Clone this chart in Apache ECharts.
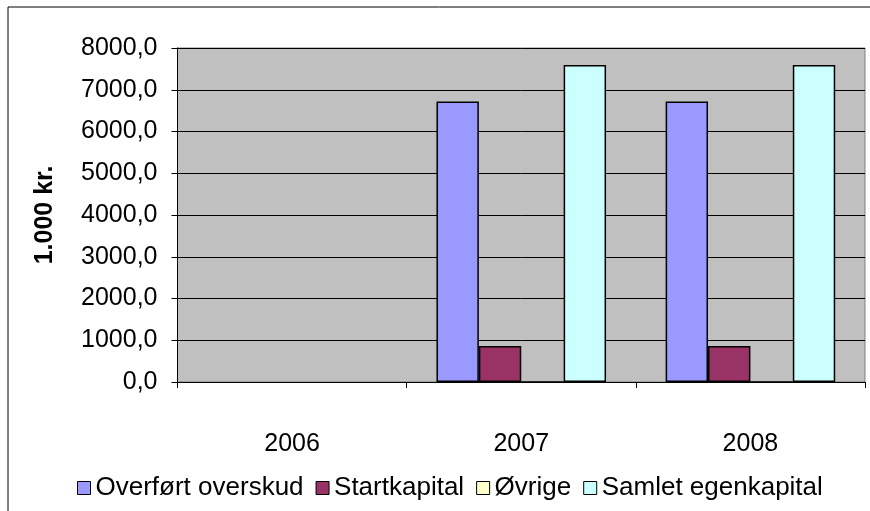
<!DOCTYPE html>
<html>
<head>
<meta charset="utf-8">
<script src="https://cdn.jsdelivr.net/npm/echarts@6/dist/echarts.min.js"></script>
<style>
  html, body { margin: 0; padding: 0; background: #fff; }
  #chart { width: 870px; height: 511px; }
</style>
</head>
<body>
<div id="chart"></div>
<script>
// data (2006 has no bars)
const years = ["2006", "2007", "2008"];
const overfortOverskud = [null, 6720, 6720];
const startkapital = [null, 860, 860];
const ovrige = [null, 0, 0];
const samletEgenkapital = [null, 7590, 7590];
const seriesNames = ["Overført overskud", "Startkapital", "Øvrige", "Samlet egenkapital"];
const yMin = 0, yMax = 8000, yStep = 1000;

const colors = ["#9999ff", "#993366", "#ffffcc", "#ccffff"];
const font = "Liberation Sans, Arial, sans-serif";

const chart = echarts.init(document.getElementById("chart"));

const makeBar = (name, data, i) => ({
  name: name,
  type: "bar",
  data: data,
  barGap: 0,
  barCategoryGap: "26%",
  itemStyle: { color: colors[i], borderColor: "#000", borderWidth: 1.5 },
});

const option = {
  animation: false,
  backgroundColor: "#fff",
  textStyle: { fontFamily: font },
  graphic: [{
    type: "rect",
    shape: { x: 8, y: 7, width: 900, height: 600 },
    style: { fill: null, stroke: "#000", lineWidth: 1 },
    z: 100,
  }],
  grid: {
    left: 177.5,
    top: 48,
    right: 5,
    bottom: 129,
    show: true,
    backgroundColor: "#c0c0c0",
    borderColor: "#808080",
    borderWidth: 1,
  },
  legend: {
    bottom: 5,
    left: 72,
    icon: "rect",
    itemWidth: 13,
    itemHeight: 13,
    itemGap: 12,
    data: seriesNames,
    itemStyle: { borderColor: "#000", borderWidth: 1 },
    textStyle: { fontFamily: font, fontSize: 26, color: "#000" },
  },
  xAxis: {
    type: "category",
    data: years,
    axisLine: { lineStyle: { color: "#000", width: 1 } },
    axisTick: { show: true, length: 6, lineStyle: { color: "#000" } },
    axisLabel: { color: "#000", fontSize: 25, margin: 50, fontFamily: font },
  },
  yAxis: {
    type: "value",
    min: yMin,
    max: yMax,
    interval: yStep,
    name: "1.000 kr.",
    nameLocation: "middle",
    nameRotate: 90,
    nameGap: 120,
    nameTextStyle: { fontSize: 25, fontWeight: "bold", color: "#000", fontFamily: font },
    axisLine: { show: true, lineStyle: { color: "#000", width: 1 } },
    axisTick: { show: true, length: 6, inside: false, lineStyle: { color: "#000" } },
    splitLine: { lineStyle: { color: "#000", width: 1 } },
    axisLabel: {
      color: "#000",
      fontSize: 25,
      margin: 20,
      fontFamily: font,
      formatter: (v) => v.toFixed(1).replace(".", ","),
    },
  },
  series: [
    makeBar(seriesNames[0], overfortOverskud, 0),
    makeBar(seriesNames[1], startkapital, 1),
    makeBar(seriesNames[2], ovrige, 2),
    makeBar(seriesNames[3], samletEgenkapital, 3),
  ],
};

chart.setOption(option);
</script>
</body>
</html>
